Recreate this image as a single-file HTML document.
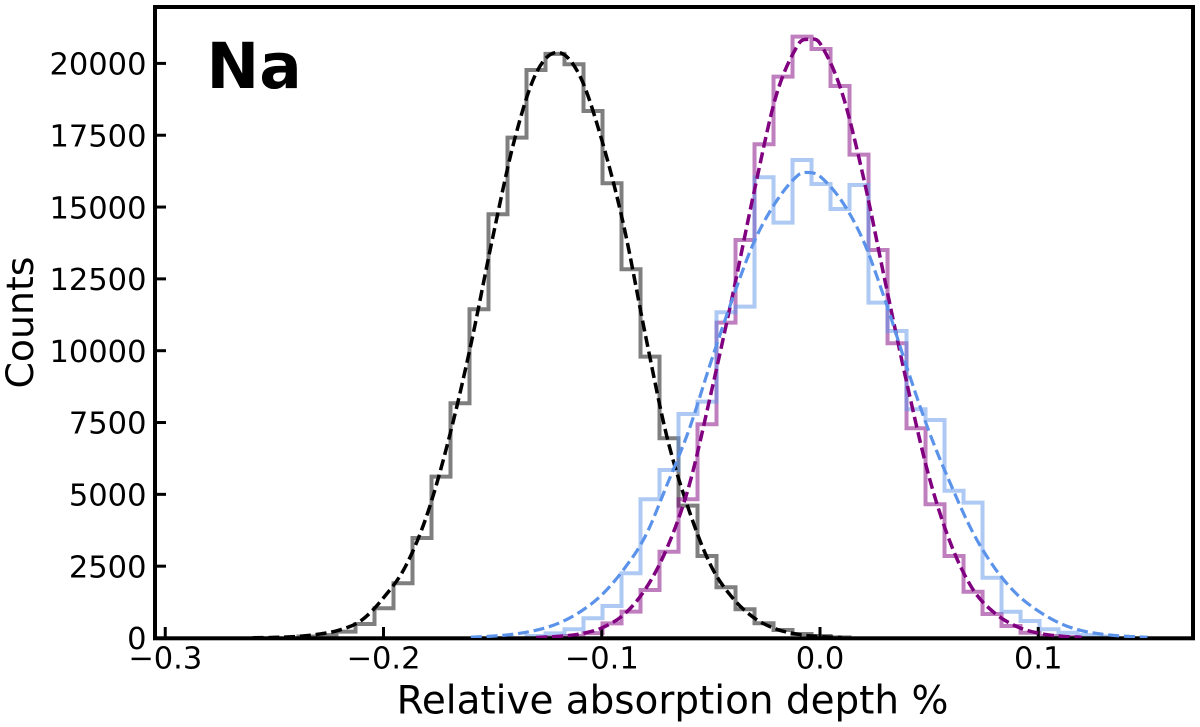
<!DOCTYPE html>
<html lang="en">
<head>
<meta charset="utf-8">
<title>Na relative absorption depth histogram</title>
<style>
html,body{margin:0;padding:0;background:#fff;width:1200px;height:727px;overflow:hidden}
svg{display:block}
text{font-family:"DejaVu Sans","Liberation Sans",sans-serif;fill:#000}
</style>
</head>
<body>
<svg id="chart" xmlns="http://www.w3.org/2000/svg" width="1200" height="727" viewBox="0 0 1200 727">
  <defs>
    <clipPath id="plot-clip"><rect x="155" y="7" width="1038" height="631"></rect></clipPath>
  </defs>
  <rect x="0" y="0" width="1200" height="727" fill="#fff"></rect>
  <g id="hist-layer" clip-path="url(#plot-clip)"></g>
  <g id="tick-layer"></g>
  <rect x="155" y="7" width="1038" height="631.3" fill="none" stroke="#000" stroke-width="4"></rect>
  <g id="fit-layer" clip-path="url(#plot-clip)"></g>
  <g id="label-layer"></g>
  <text x="206.5" y="88" font-size="63" font-weight="700">Na</text>
  <text x="672.5" y="713.5" font-size="38.9" text-anchor="middle">Relative absorption depth %</text>
  <text transform="translate(33,322.5) rotate(-90)" font-size="37.8" text-anchor="middle">Counts</text>
</svg>
<script>
// Axis tick values
const xTickValues = [-0.3, -0.2, -0.1, 0.0, 0.1];
const xTickLabels = ['\u22120.3', '\u22120.2', '\u22120.1', '0.0', '0.1'];
const yTickValues = [0, 2500, 5000, 7500, 10000, 12500, 15000, 17500, 20000];
const yTickLabels = ['0', '2500', '5000', '7500', '10000', '12500', '15000', '17500', '20000'];

// Histogram bins (data units)
const binWidth = 0.008706;
const grayFirstEdge = -0.23895;
const purpleFirstEdge = -0.12577;
const blueFirstEdge = -0.13448;

// Histogram counts
const grayCounts = [50, 100, 220, 487, 1034, 1904, 3481, 5615, 8170, 11442, 14749, 17416, 19772, 20330, 19970, 18345, 15827, 12835, 9792, 6952, 4606, 2855, 1765, 999, 512, 278, 139, 70, 20];
const purpleCounts = [30, 70, 170, 511, 916, 1671, 3004, 4828, 7439, 10976, 13854, 17186, 19539, 20932, 20503, 19215, 16824, 13506, 10259, 7300, 4654, 2854, 1612, 835, 418, 184, 70, 35];
const blueCounts = [70, 160, 303, 686, 1114, 2252, 4828, 5848, 7797, 8226, 11338, 11533, 16037, 14457, 16639, 15804, 14933, 15769, 11672, 10687, 7961, 7589, 5127, 4710, 2099, 915, 592, 303, 184, 100, 50];

// Fitted curves: sampled depth and counts
const blackFitX = [-0.26, -0.25, -0.24, -0.23, -0.22, -0.21, -0.20, -0.19, -0.18, -0.17, -0.16, -0.15, -0.14, -0.13, -0.12, -0.11, -0.10, -0.09, -0.08, -0.07, -0.06, -0.05, -0.04, -0.03, -0.02, -0.01, 0.0, 0.01];
const blackFitY = [6, 20, 50, 130, 280, 620, 1400, 2480, 4300, 6950, 10200, 13925, 17336, 19670, 20384, 19560, 17336, 14377, 10548, 6960, 4440, 2520, 1390, 690, 310, 128, 50, 18];
const purpleFitX = [-0.13, -0.12, -0.11, -0.10, -0.09, -0.08, -0.07, -0.06, -0.05, -0.04, -0.03, -0.02, -0.01, -0.005, 0.0, 0.01, 0.02, 0.03, 0.04, 0.05, 0.06, 0.07, 0.08, 0.09, 0.10, 0.11, 0.12];
const purpleFitY = [18, 55, 140, 350, 810, 1700, 3150, 5300, 8500, 11950, 15600, 18900, 20657, 20838, 20700, 19000, 16000, 12350, 8800, 5600, 3261, 1700, 870, 404, 169, 65, 23];
const blueFitX = [-0.16, -0.15, -0.14, -0.13, -0.12, -0.11, -0.10, -0.09, -0.08, -0.07, -0.06, -0.05, -0.04, -0.03, -0.02, -0.01, -0.005, 0.0, 0.01, 0.02, 0.03, 0.04, 0.05, 0.06, 0.07, 0.08, 0.09, 0.10, 0.11, 0.12, 0.13, 0.14, 0.15];
const blueFitY = [29, 65, 136, 270, 507, 905, 1500, 2380, 3550, 5350, 7250, 9602, 11829, 13823, 15200, 16114, 16200, 16072, 15204, 13800, 11720, 9375, 7177, 5330, 3680, 2440, 1540, 940, 510, 253, 126, 60, 27];

// Axis functions
function xScale(v) { return 820 + v * 2182.5; }
function yScale(v) { return 638 - v * 0.02873; }

const NS = 'http://www.w3.org/2000/svg';
function make(tag, attrs, parent) {
  const el = document.createElementNS(NS, tag);
  for (const k in attrs) el.setAttribute(k, attrs[k]);
  parent.appendChild(el);
  return el;
}

function histPath(firstEdge, counts) {
  let d = 'M' + xScale(firstEdge).toFixed(2) + ' ' + yScale(0).toFixed(2);
  counts.forEach(function (c, i) {
    const y = yScale(c).toFixed(2);
    d += 'L' + xScale(firstEdge + i * binWidth).toFixed(2) + ' ' + y;
    d += 'L' + xScale(firstEdge + (i + 1) * binWidth).toFixed(2) + ' ' + y;
  });
  d += 'L' + xScale(firstEdge + counts.length * binWidth).toFixed(2) + ' ' + yScale(0).toFixed(2);
  return d;
}

function curvePath(xs, ys) {
  const px = xs.map(xScale);
  const py = ys.map(yScale);
  const n = px.length;
  const slope = px.map(function (_, i) {
    const a = Math.max(0, i - 1);
    const b = Math.min(n - 1, i + 1);
    return (py[b] - py[a]) / (px[b] - px[a]);
  });
  let d = 'M' + px[0].toFixed(2) + ' ' + py[0].toFixed(2);
  for (let i = 0; i < n - 1; i++) {
    const h = (px[i + 1] - px[i]) / 3;
    d += 'C' + (px[i] + h).toFixed(2) + ' ' + (py[i] + slope[i] * h).toFixed(2) + ' ' +
      (px[i + 1] - h).toFixed(2) + ' ' + (py[i + 1] - slope[i + 1] * h).toFixed(2) + ' ' +
      px[i + 1].toFixed(2) + ' ' + py[i + 1].toFixed(2);
  }
  return d;
}

const histLayer = document.getElementById('hist-layer');
const tickLayer = document.getElementById('tick-layer');
const fitLayer = document.getElementById('fit-layer');
const labelLayer = document.getElementById('label-layer');

const histStyle = { fill: 'none', 'stroke-width': 4, 'stroke-linejoin': 'miter' };

const grayHist = make('path', Object.assign({ d: histPath(grayFirstEdge, grayCounts), stroke: '#000', 'stroke-opacity': 0.5 }, histStyle), histLayer);



const purpleHist = make('path', Object.assign({ d: histPath(purpleFirstEdge, purpleCounts), stroke: '#800080', 'stroke-opacity': 0.5 }, histStyle), histLayer);



const blueHist = make('path', Object.assign({ d: histPath(blueFirstEdge, blueCounts), stroke: '#5b93ea', 'stroke-opacity': 0.5 }, histStyle), histLayer);



const fitStyle = { fill: 'none', 'stroke-dasharray': '11 4.8' };

const blackFit = make('path', Object.assign({ d: curvePath(blackFitX, blackFitY), stroke: '#000', 'stroke-width': 3.5 }, fitStyle), fitLayer);



const purpleFit = make('path', Object.assign({ d: curvePath(purpleFitX, purpleFitY), stroke: '#800080', 'stroke-width': 3.5 }, fitStyle), fitLayer);



const blueFit = make('path', Object.assign({ d: curvePath(blueFitX, blueFitY), stroke: '#5b93ea', 'stroke-width': 3.2 }, fitStyle), fitLayer);



xTickValues.forEach(function (v, i) {
  const x = xScale(v);
  const tick = make('line', { x1: x, x2: x, y1: 638, y2: 627, stroke: '#000', 'stroke-width': 3 }, tickLayer);
  
  
  const label = make('text', { x: x, y: 668.5, 'font-size': 30.5, 'text-anchor': 'middle' }, labelLayer);
  label.textContent = xTickLabels[i];
  
  
});

yTickValues.forEach(function (v, i) {
  const y = yScale(v);
  const tick = make('line', { x1: 155, x2: 166, y1: y, y2: y, stroke: '#000', 'stroke-width': 3 }, tickLayer);
  
  
  const label = make('text', { x: 146.5, y: y + 11.2, 'font-size': 30.5, 'text-anchor': 'end' }, labelLayer);
  label.textContent = yTickLabels[i];
  
  
});
</script>
</body>
</html>
